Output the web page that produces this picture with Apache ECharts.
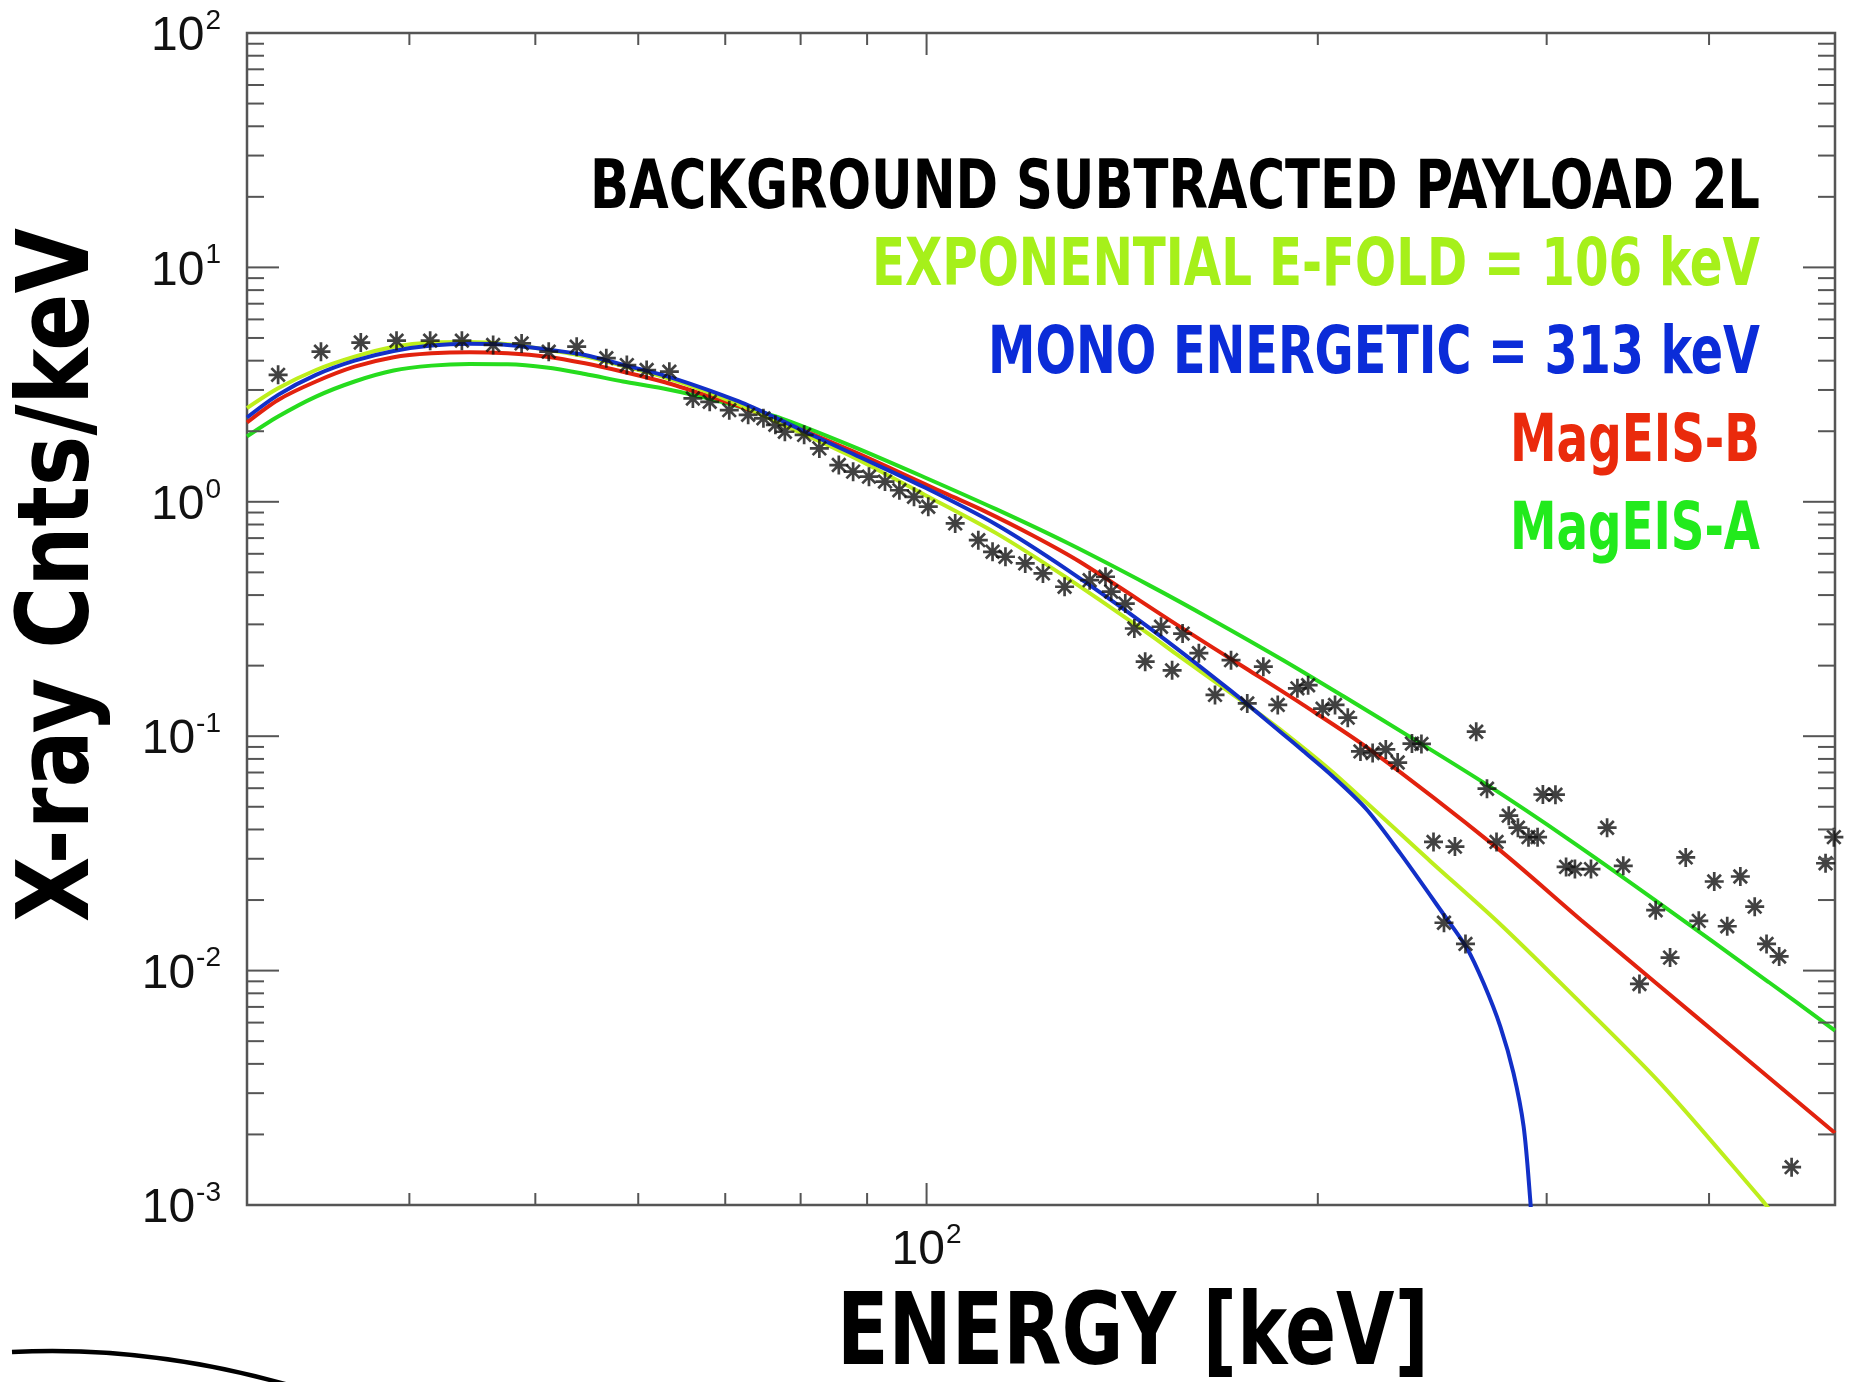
<!DOCTYPE html>
<html>
<head>
<meta charset="utf-8">
<title>Background subtracted payload 2L – X-ray spectrum</title>
<script src="https://cdn.jsdelivr.net/npm/echarts@6/dist/echarts.min.js"></script>
<style>
  html, body { margin: 0; padding: 0; background: #ffffff; }
  #chart { width: 1859px; height: 1382px; }
</style>
</head>
<body>
<div id="chart"></div>
<script>
// ---------------------------------------------------------------------------
// Measured spectrum (background subtracted), energy in keV, counts per keV
// ---------------------------------------------------------------------------
const dataEnergy = [
  31.7, 34.2, 36.7, 39.1, 41.5, 43.9, 46.4, 48.8, 51.2, 53.8,
  56.7, 58.8, 60.9, 63.4, 66.1, 68.1, 70.5, 72.9, 74.9, 76.5,
  77.8, 80.5, 82.7, 85.6, 87.8, 90.3, 92.9, 95.3, 97.8, 100.3,
  105.2, 109.6, 112.4, 115.0, 119.1, 122.9, 127.7, 133.5, 137.3, 138.7,
  142.2, 144.5, 147.3, 151.5, 154.5, 157.4, 162.0, 166.7, 171.5, 176.5,
  181.6, 186.3, 192.9, 196.6, 201.7, 206.2, 210.9, 215.7, 220.4, 225.6,
  230.4, 236.3, 240.3, 245.5, 250.1, 255.0, 259.8, 264.8, 269.9, 274.5,
  280.5, 285.1, 290.5, 295.2, 298.0, 304.7, 310.5, 315.4, 324.5, 333.9,
  343.6, 353.6, 363.9, 373.3, 383.8, 392.8, 403.7, 413.1, 422.8, 433.7,
  442.9, 452.9, 463.0, 491.7, 499.0
];
const dataCounts = [
  3.48, 4.37, 4.78, 4.87, 4.87, 4.87, 4.67, 4.74, 4.37, 4.59,
  4.10, 3.83, 3.65, 3.59, 2.76, 2.67, 2.46, 2.35, 2.27, 2.13,
  1.99, 1.93, 1.69, 1.435, 1.345, 1.28, 1.22, 1.12, 1.05, 0.953,
  0.809, 0.686, 0.612, 0.583, 0.546, 0.495, 0.434, 0.463, 0.479, 0.414,
  0.368, 0.288, 0.208, 0.293, 0.191, 0.274, 0.226, 0.150, 0.211, 0.138,
  0.198, 0.136, 0.160, 0.165, 0.131, 0.136, 0.120, 0.0861, 0.0847, 0.0878,
  0.0772, 0.0930, 0.0927, 0.0354, 0.0160, 0.0338, 0.0130, 0.1045, 0.0597, 0.0354,
  0.0458, 0.0407, 0.0371, 0.0371, 0.0564, 0.0563, 0.0277, 0.0271, 0.0271, 0.0407,
  0.0280, 0.00877, 0.0181, 0.01136, 0.0304, 0.0163, 0.0240, 0.01546, 0.0252, 0.01874,
  0.0130, 0.01149, 0.00145, 0.0287, 0.0371
];

// Exponential spectrum, e-fold 106 keV
const expEnergy = [30, 31.7, 33.9, 36.3, 38.9, 41.6, 44.5, 47.6, 51.0, 54.6,
  58.4, 62.6, 67.0, 71.7, 77.3, 87.8, 99.7, 113.1, 128.5, 148.4,
  155.5, 176.5, 190.0, 205.5, 244.1, 274.9, 309.5, 367.3, 438.7, 445];
const expCounts = [2.51, 3.05, 3.65, 4.16, 4.59, 4.78, 4.80, 4.70, 4.46, 4.18,
  3.80, 3.42, 3.02, 2.60, 2.15, 1.55, 1.07, 0.735, 0.47, 0.272,
  0.225, 0.136, 0.100, 0.070, 0.0293, 0.0162, 0.00854, 0.00329, 0.00106, 0.00096];

// Mono-energetic electrons, 313 keV
const monoEnergy = [30, 31.7, 33.9, 36.3, 38.9, 41.6, 44.5, 47.6, 51.0, 54.6,
  58.4, 62.6, 67.0, 71.7, 76.7, 82.1, 87.8, 99.7, 113.1, 128.5,
  148.4, 171.0, 188.1, 194.9, 205.5, 218.0, 231.4, 249.8, 260.4, 268.3,
  276.4, 282.9, 288.0, 291.4, 292.2];
const monoCounts = [2.29, 2.86, 3.48, 4.00, 4.40, 4.64, 4.72, 4.67, 4.47, 4.23,
  3.84, 3.48, 3.08, 2.68, 2.27, 1.90, 1.60, 1.15, 0.80, 0.51,
  0.29, 0.158, 0.102, 0.0865, 0.0672, 0.0488, 0.0317, 0.01744, 0.0125, 0.00883,
  0.00576, 0.00365, 0.00216, 0.00105, 0.0008];

// MagEIS-B electron spectrum folded through the response
const magBEnergy = [30, 31.7, 33.9, 36.3, 38.9, 41.6, 44.5, 47.6, 51.0, 54.6,
  58.4, 62.6, 67.0, 71.7, 77.3, 87.8, 99.7, 104.0, 110.3, 120.6,
  131.1, 156.5, 176.5, 194.9, 219.4, 274.9, 318.8, 363.9, 416.9, 500];
const magBCounts = [2.18, 2.72, 3.26, 3.77, 4.14, 4.30, 4.35, 4.30, 4.16, 3.90,
  3.59, 3.26, 2.90, 2.56, 2.20, 1.64, 1.19, 1.07, 0.924, 0.72,
  0.556, 0.294, 0.193, 0.136, 0.0876, 0.0333, 0.01644, 0.00888, 0.00472, 0.00203];

// MagEIS-A electron spectrum folded through the response
const magAEnergy = [30, 31.7, 33.9, 36.3, 38.9, 41.6, 44.5, 47.6, 51.0, 54.6,
  58.4, 62.6, 67.0, 71.7, 77.3, 87.8, 99.7, 113.1, 128.5, 148.4,
  165.7, 188.1, 209.3, 237.2, 270.2, 311.5, 363.9, 444.5, 500];
const magACounts = [1.90, 2.31, 2.81, 3.26, 3.63, 3.81, 3.87, 3.86, 3.74, 3.51,
  3.26, 3.05, 2.81, 2.55, 2.27, 1.72, 1.27, 0.93, 0.665, 0.44,
  0.315, 0.211, 0.148, 0.0969, 0.0618, 0.0365, 0.0199, 0.00894, 0.00555];

// Axis ranges and tick values
const X_MIN = 30, X_MAX = 500;
const Y_MIN = 0.001, Y_MAX = 100;
const xMajorTicks = [100];
const xMinorTicks = [40, 50, 60, 70, 80, 90, 200, 300, 400];
const yMajorTicks = [0.001, 0.01, 0.1, 1, 10, 100];
const yMinorFactors = [2, 3, 4, 5, 6, 7, 8, 9];

// Annotation lines, top to bottom
const headerLines = [
  'BACKGROUND SUBTRACTED PAYLOAD 2L',
  'EXPONENTIAL E-FOLD = 106 keV',
  'MONO ENERGETIC = 313 keV',
  'MagEIS-B',
  'MagEIS-A'
];

// ---------------------------------------------------------------------------
const COLORS = {
  exp: '#bdee1c', expText: '#a6f01a',
  mono: '#1230c8', monoText: '#0b2cd8',
  magB: '#e2220e', magBText: '#ea2a0c',
  magA: '#26dc1e', magAText: '#22ea1c',
  axis: '#555555', ink: '#111111'
};
const TITLE_FONT = '"Liberation Sans Narrow", "DejaVu Sans Condensed", "Liberation Sans", sans-serif';
const TICK_FONT = '"Liberation Sans", "DejaVu Sans", sans-serif';

const pairs = (xs, ys) => xs.map((x, i) => [x, ys[i]]);

const measureCtx = document.createElement('canvas').getContext('2d');
function widthScale(text, size, weight, target) {
  measureCtx.font = weight + ' ' + size + 'px ' + TITLE_FONT;
  return target / measureCtx.measureText(text).width;
}

function fittedText(text, fill, x, y, size, weight, targetWidth, align, extra) {
  return Object.assign({
    type: 'text',
    x: x, y: y,
    scaleX: widthScale(text, size, weight, targetWidth),
    silent: true,
    z: 50,
    style: {
      text: text, fill: fill,
      fontFamily: TITLE_FONT, fontSize: size, fontWeight: weight,
      align: align, textAlign: align,
      verticalAlign: 'middle', textVerticalAlign: 'middle'
    }
  }, extra || {});
}

const isPow10 = v => Math.abs(Math.log10(v) - Math.round(Math.log10(v))) < 1e-6;
const powLabel = v => '{b|10}{s|' + Math.round(Math.log10(v)) + '}';

const tickLine = (x1, y1, x2, y2) => ({
  type: 'line', shape: { x1, y1, x2, y2 },
  style: { stroke: COLORS.axis, lineWidth: 2 }
});

// x ticks: drawn on the bottom and mirrored on the top edge
const xTickData = xMajorTicks.concat(xMinorTicks).map(v => [v, Y_MIN]);
function renderXTick(params, api) {
  const v = api.value(0);
  const len = xMajorTicks.indexOf(v) >= 0 ? 22 : 12;
  const b = api.coord([v, Y_MIN]);
  const t = api.coord([v, Y_MAX]);
  return { type: 'group', children: [
    tickLine(b[0], b[1], b[0], b[1] - len),
    tickLine(t[0], t[1], t[0], t[1] + len)
  ] };
}

// y ticks: decades and 2..9 subdivisions, on the left and mirrored on the right
const yTickValues = [];
yMajorTicks.forEach((d, i) => {
  yTickValues.push(d);
  if (i < yMajorTicks.length - 1) yMinorFactors.forEach(f => yTickValues.push(d * f));
});
const yTickData = yTickValues.map(v => [X_MIN, v]);
function renderYTick(params, api) {
  const v = api.value(1);
  const len = isPow10(v) ? 32 : 17;
  const l = api.coord([X_MIN, v]);
  const r = api.coord([X_MAX, v]);
  return { type: 'group', children: [
    tickLine(l[0], l[1], l[0] + len, l[1]),
    tickLine(r[0], r[1], r[0] - len, r[1])
  ] };
}

const labelRich = {
  b: { fontFamily: TICK_FONT, fontSize: 48, color: COLORS.ink, lineHeight: 56, verticalAlign: 'bottom' },
  s: { fontFamily: TICK_FONT, fontSize: 28, color: COLORS.ink, lineHeight: 30, verticalAlign: 'top', padding: [2, 0, 0, 1] }
};

const curve = (name, xs, ys, color) => ({
  name: name,
  type: 'line',
  data: pairs(xs, ys),
  showSymbol: false,
  smooth: 0.3,
  clip: true,
  lineStyle: { color: color, width: 4 },
  emphasis: { disabled: true },
  silent: true
});

const ASTERISK = 'path://M0,-8L0,8M-8,0L8,0M-5.66,-5.66L5.66,5.66M-5.66,5.66L5.66,-5.66';

const chart = echarts.init(document.getElementById('chart'), null, { renderer: 'canvas' });

chart.setOption({
  backgroundColor: '#ffffff',
  animation: false,
  grid: {
    left: 247, right: 24, top: 33, bottom: 177,
    show: true, borderColor: COLORS.axis, borderWidth: 2.5, backgroundColor: '#ffffff'
  },
  xAxis: {
    type: 'log', logBase: 10, min: X_MIN, max: X_MAX,
    axisLine: { show: false },
    axisTick: { show: false },
    splitLine: { show: false },
    axisLabel: {
      margin: 14,
      formatter: v => (isPow10(v) ? powLabel(v) : ''),
      rich: labelRich
    }
  },
  yAxis: {
    type: 'log', logBase: 10, min: Y_MIN, max: Y_MAX,
    axisLine: { show: false },
    axisTick: { show: false },
    splitLine: { show: false },
    axisLabel: {
      margin: 26,
      formatter: v => powLabel(v),
      rich: labelRich
    }
  },
  series: [
    curve('MagEIS-A', magAEnergy, magACounts, COLORS.magA),
    curve('MagEIS-B', magBEnergy, magBCounts, COLORS.magB),
    curve('Exponential', expEnergy, expCounts, COLORS.exp),
    curve('Mono energetic', monoEnergy, monoCounts, COLORS.mono),
    {
      name: 'Payload 2L',
      type: 'scatter',
      data: pairs(dataEnergy, dataCounts),
      symbol: ASTERISK,
      symbolSize: 19,
      itemStyle: { color: COLORS.ink, borderColor: COLORS.ink, borderWidth: 2.7 },
      z: 5,
      silent: true
    },
    {
      type: 'custom', name: 'x ticks', data: xTickData,
      renderItem: renderXTick, encode: { x: 0, y: 1 }, silent: true, z: 6
    },
    {
      type: 'custom', name: 'y ticks', data: yTickData,
      renderItem: renderYTick, encode: { x: 0, y: 1 }, silent: true, z: 6
    }
  ],
  graphic: [
    fittedText(headerLines[0], '#000000', 1760, 190, 68, 'bold', 1170, 'right'),
    fittedText(headerLines[1], COLORS.expText, 1760, 268, 66, 'bold', 888, 'right'),
    fittedText(headerLines[2], COLORS.monoText, 1760, 356, 66, 'bold', 772, 'right'),
    fittedText(headerLines[3], COLORS.magBText, 1760, 444, 66, 'bold', 250, 'right'),
    fittedText(headerLines[4], COLORS.magAText, 1760, 532, 66, 'bold', 250, 'right'),
    fittedText('ENERGY [keV]', '#000000', 1133, 1338, 100, 'bold', 592, 'center'),
    fittedText('X-ray Cnts/keV', '#000000', 62, 575, 100, 'bold', 694, 'center', { rotation: Math.PI / 2 }),
    {
      type: 'bezierCurve',
      silent: true,
      shape: { x1: 12, y1: 1352, cpx1: 150, cpy1: 1345, x2: 292, y2: 1386 },
      style: { stroke: '#000000', lineWidth: 4.5, fill: 'none' }
    }
  ]
});
</script>
</body>
</html>
